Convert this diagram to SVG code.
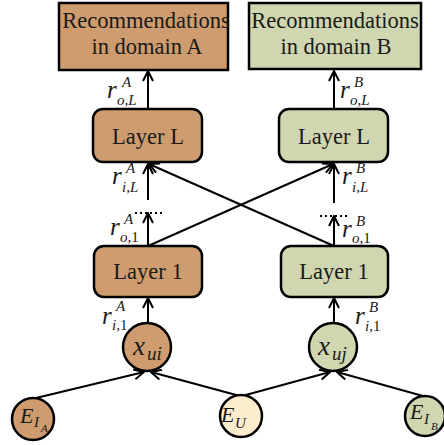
<svg xmlns="http://www.w3.org/2000/svg" width="444" height="445" viewBox="0 0 444 445">
<style>
.box{stroke:#000;stroke-width:2.5}
.a{fill:#CE9C6E}
.b{fill:#D0D6B0}
.u{fill:#FCEECD}
.t{font-family:"Liberation Serif","Times New Roman",serif;font-size:22.5px;fill:#1a1a1a;text-anchor:middle}
.m{font-family:"Liberation Serif","Times New Roman",serif;font-style:italic;fill:#1a1a1a}
.n{font-style:normal}
.r{font-size:25px}
.s{font-size:15px}
.ss{font-size:11px}
.c{fill:none;stroke:#000;stroke-width:2}
.d{fill:none;stroke:#000;stroke-width:2;stroke-dasharray:2,3}
</style>
<defs>
<marker id="ar" viewBox="0 0 12 12" refX="11" refY="6" markerWidth="12" markerHeight="12" markerUnits="userSpaceOnUse" orient="auto">
<path d="M1,1 L11,6 L1,11" fill="none" stroke="#000" stroke-width="2"/>
</marker>
</defs>
<g id="connectors">
<line class="c" x1="148" y1="109" x2="148" y2="71" marker-end="url(#ar)"/>
<line class="c" x1="334" y1="109" x2="334" y2="71" marker-end="url(#ar)"/>
<line class="c" x1="148" y1="200" x2="148" y2="164" marker-end="url(#ar)"/>
<line class="c" x1="334" y1="203" x2="334" y2="164" marker-end="url(#ar)"/>
<line class="c" x1="148" y1="246" x2="148" y2="213" marker-end="url(#ar)"/>
<line class="c" x1="334" y1="246" x2="334" y2="216" marker-end="url(#ar)"/>
<line class="d" x1="135" y1="213" x2="163" y2="213"/>
<line class="d" x1="320" y1="216" x2="348" y2="216"/>
<line class="c" x1="148" y1="246" x2="333" y2="164" marker-end="url(#ar)"/>
<line class="c" x1="334" y1="246" x2="149" y2="164" marker-end="url(#ar)"/>
<line class="c" x1="148" y1="323" x2="148" y2="298" marker-end="url(#ar)"/>
<line class="c" x1="334" y1="323" x2="334" y2="298" marker-end="url(#ar)"/>
<line class="c" x1="36" y1="398" x2="144" y2="372" marker-end="url(#ar)"/>
<line class="c" x1="240" y1="396" x2="151" y2="372" marker-end="url(#ar)"/>
<line class="c" x1="242" y1="396" x2="330" y2="372" marker-end="url(#ar)"/>
<line class="c" x1="423" y1="396" x2="337" y2="372" marker-end="url(#ar)"/>
</g>
<g id="recA">
<rect class="box a" x="59" y="3" width="169" height="67"/>
<text class="t" x="146" y="28">Recommendations</text>
<text class="t" x="147" y="54">in domain A</text>
</g>
<g id="recB">
<rect class="box b" x="249" y="3" width="172" height="66"/>
<text class="t" x="335" y="28">Recommendations</text>
<text class="t" x="336" y="54">in domain B</text>
</g>
<g id="layerLA">
<rect class="box a" x="93" y="109" width="109" height="53" rx="10"/>
<text class="t" x="148" y="144">Layer L</text>
</g>
<g id="layerLB">
<rect class="box b" x="279" y="109" width="109" height="53" rx="10"/>
<text class="t" x="334" y="144">Layer L</text>
</g>
<g id="layer1A">
<rect class="box a" x="94" y="246" width="108" height="51" rx="10"/>
<text class="t" x="148" y="279">Layer 1</text>
</g>
<g id="layer1B">
<rect class="box b" x="281" y="246" width="107" height="51" rx="10"/>
<text class="t" x="334" y="279">Layer 1</text>
</g>
<g id="xui">
<circle class="box a" cx="147" cy="347" r="24"/>
<text class="m" x="133" y="355" font-size="27">x</text>
<text class="m" x="147" y="360" font-size="19">ui</text>
</g>
<g id="xuj">
<circle class="box b" cx="333" cy="347" r="24"/>
<text class="m" x="318" y="355" font-size="27">x</text>
<text class="m" x="332" y="360" font-size="19">uj</text>
</g>
<g id="EIA">
<circle class="box a" cx="33" cy="419" r="21"/>
<text class="m" x="20" y="423" font-size="22">E</text>
<text class="m s" x="34" y="427">I</text>
<text class="m ss" x="41" y="432">A</text>
</g>
<g id="EU">
<circle class="box u" cx="241" cy="416" r="21"/>
<text class="m" x="221" y="422" font-size="22">E</text>
<text class="m s" x="235" y="428">U</text>
</g>
<g id="EIB">
<circle class="box b" cx="425" cy="416" r="20"/>
<text class="m" x="410" y="419" font-size="22">E</text>
<text class="m s" x="424" y="424">I</text>
<text class="m ss" x="431" y="430">B</text>
</g>
<g id="labels">
<text class="m r" x="107" y="98">r</text><text class="m s" x="122" y="87">A</text><text class="m s" x="117" y="105">o,L</text>
<text class="m r" x="340" y="98">r</text><text class="m s" x="354" y="87">B</text><text class="m s" x="350" y="105">o,L</text>
<text class="m r" x="112" y="184">r</text><text class="m s" x="126" y="173">A</text><text class="m s" x="122" y="192">i,L</text>
<text class="m r" x="342" y="184">r</text><text class="m s" x="356" y="173">B</text><text class="m s" x="352" y="192">i,L</text>
<text class="m r" x="110" y="235">r</text><text class="m s" x="124" y="224">A</text><text class="m s" x="120" y="242">o,<tspan class="n">1</tspan></text>
<text class="m r" x="342" y="237">r</text><text class="m s" x="356" y="226">B</text><text class="m s" x="352" y="243">o,<tspan class="n">1</tspan></text>
<text class="m r" x="102" y="324">r</text><text class="m s" x="116" y="311">A</text><text class="m s" x="112" y="330">i,<tspan class="n">1</tspan></text>
<text class="m r" x="355" y="324">r</text><text class="m s" x="369" y="312">B</text><text class="m s" x="365" y="331">i,<tspan class="n">1</tspan></text>
</g>
</svg>
